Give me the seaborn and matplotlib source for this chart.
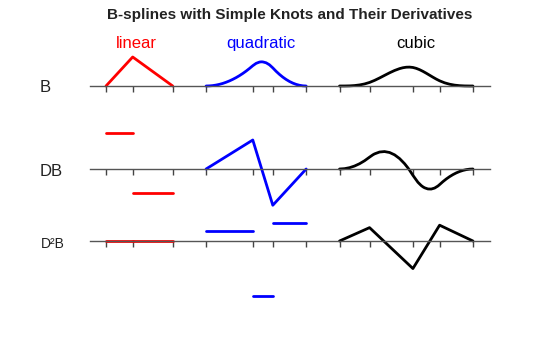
import matplotlib
matplotlib.use("Agg")
import matplotlib.pyplot as plt
import seaborn as sns
import numpy as np

# ---------------- data ----------------
lin_knots = [0.0, 0.8, 2.0]
quad_knots = [3.0, 4.4, 5.0, 6.0]
cub_knots = [7.0, 7.9, 9.2, 10.0, 11.0]

# B row
lin_B_x = [0.0, 0.8, 2.0]
lin_B_y = [0.0, 1.0, 0.0]
quad_B_x = [3.0, 3.1, 3.2, 3.3, 3.4, 3.5, 3.6, 3.7, 3.8, 3.9, 4.0, 4.1, 4.2, 4.3,
            4.4, 4.5, 4.6, 4.65, 4.7, 4.8, 4.9, 5.0, 5.1, 5.2, 5.3, 5.4, 5.5, 5.6,
            5.7, 5.8, 5.9, 6.0]
quad_B_y = [0.0, 0.004, 0.014, 0.032, 0.057, 0.089, 0.129, 0.175, 0.229, 0.289,
            0.357, 0.432, 0.514, 0.604, 0.700, 0.781, 0.825, 0.833, 0.831, 0.800,
            0.731, 0.625, 0.506, 0.400, 0.306, 0.225, 0.156, 0.100, 0.056, 0.025,
            0.006, 0.0]
cub_B_x = [7.0, 7.15, 7.3, 7.45, 7.6, 7.75, 7.9, 8.05, 8.2, 8.35, 8.5, 8.65, 8.8,
           8.9, 9.0, 9.1, 9.2, 9.3, 9.4, 9.5, 9.6, 9.7, 9.8, 9.9, 10.0, 10.15,
           10.3, 10.45, 10.6, 10.75, 10.9, 11.0]
cub_B_y = [0.0, 0.0006, 0.0045, 0.0153, 0.0364, 0.0710, 0.1227, 0.1931, 0.2767,
           0.3663, 0.4547, 0.5347, 0.5990, 0.6295, 0.6478, 0.6516, 0.6389, 0.6083,
           0.5627, 0.5056, 0.4410, 0.3723, 0.3033, 0.2377, 0.1792, 0.1100, 0.0615,
           0.0298, 0.0115, 0.0028, 0.0002, 0.0]

# DB row
lin_DB_vals = [1.25, -0.833]          # constant on each knot interval
quad_DB_x = [3.0, 4.4, 5.0, 6.0]
quad_DB_y = [0.0, 1.0, -1.25, 0.0]
cub_DB_x = [7.0, 7.15, 7.3, 7.45, 7.6, 7.75, 7.9, 8.0, 8.05, 8.2, 8.35, 8.5, 8.65,
            8.8, 8.95, 9.05, 9.1, 9.2, 9.35, 9.45, 9.5, 9.55, 9.65, 9.75, 9.85,
            9.95, 10.0, 10.1, 10.2, 10.3, 10.4, 10.5, 10.6, 10.7, 10.8, 10.9, 11.0]
cub_DB_y = [0.0, 0.0114, 0.0455, 0.1023, 0.1818, 0.2841, 0.4091, 0.4893, 0.5214,
            0.5855, 0.6015, 0.5692, 0.4888, 0.3603, 0.1835, 0.0389, -0.0414,
            -0.2182, -0.4577, -0.5715, -0.6145, -0.6483, -0.6881, -0.6913, -0.6574,
            -0.5868, -0.5376, -0.4355, -0.3441, -0.2634, -0.1935, -0.1344, -0.0860,
            -0.0484, -0.0215, -0.0054, 0.0]

# D2B row
lin_D2B_vals = [0.0, 0.0]
quad_D2B_vals = [0.714, -3.75, 1.25]
cub_D2B_x = [7.0, 7.9, 9.2, 10.0, 11.0]
cub_D2B_y = [0.0, 0.909, -1.874, 1.075, 0.0]

titles = ["linear", "quadratic", "cubic"]
title_x = [0.92, 4.65, 9.29]
row_labels = ["B", "DB", "D²B"]
main_title = "B-splines with Simple Knots and Their Derivatives"

# ---------------- styling ----------------
sns.set_theme(style="white")
plt.rcParams["font.family"] = ["Liberation Sans", "DejaVu Sans"]

W, H = 560, 337
fig = plt.figure(figsize=(W / 100, H / 100), dpi=100)

px_unit = 33.36        # pixels per x unit
x0_px = 106            # pixel position of x = 0
xlim = (-x0_px / px_unit, (W - x0_px) / px_unit)

# (top px, bottom px, baseline px, px per y-unit)
rows = [(30, 110, 86, 29.0), (110, 215, 169, 29.0), (215, 330, 241, 14.7)]
all_knots = lin_knots + quad_knots + cub_knots

axes = []
for (top, bot, base, sc) in rows:
    ax = fig.add_axes([0, 1 - bot / H, 1, (bot - top) / H])
    ax.set_xlim(*xlim)
    ax.set_ylim(-(bot - base) / sc, (base - top) / sc)
    for s in ["top", "left", "right"]:
        ax.spines[s].set_visible(False)
    ax.spines["bottom"].set_position(("data", 0))
    ax.spines["bottom"].set_bounds(-0.48, 11.5)
    ax.spines["bottom"].set_color("#555555")
    ax.spines["bottom"].set_linewidth(1.0)
    ax.set_xticks(all_knots)
    ax.set_xticklabels([])
    ax.set_yticks([])
    ax.tick_params(axis="x", direction="out", length=4, width=1,
                   color="#444444", bottom=True)
    ax.patch.set_alpha(0)
    axes.append(ax)

LW = 2.0
RED, BLUE, BLACK = "#FF0000", "#0000FF", "#000000"


def curve(ax, xs, ys, color):
    sns.lineplot(x=xs, y=ys, ax=ax, color=color, lw=LW, sort=False,
                 estimator=None, clip_on=False)


def steps(ax, knots, vals, color):
    for i, v in enumerate(vals):
        sns.lineplot(x=[knots[i], knots[i + 1]], y=[v, v], ax=ax, color=color,
                     lw=LW, sort=False, estimator=None, clip_on=False)


# B row
curve(axes[0], lin_B_x, lin_B_y, RED)
curve(axes[0], quad_B_x, quad_B_y, BLUE)
curve(axes[0], cub_B_x, cub_B_y, BLACK)
# DB row
steps(axes[1], lin_knots, lin_DB_vals, RED)
curve(axes[1], quad_DB_x, quad_DB_y, BLUE)
curve(axes[1], cub_DB_x, cub_DB_y, BLACK)
# D2B row
steps(axes[2], lin_knots, lin_D2B_vals, RED)
steps(axes[2], quad_knots, quad_D2B_vals, BLUE)
curve(axes[2], cub_D2B_x, cub_D2B_y, BLACK)

for ax in axes:
    if ax.get_legend():
        ax.get_legend().remove()

# column titles
for t, tx, c in zip(titles, title_x, [RED, BLUE, BLACK]):
    fig.text((x0_px + tx * px_unit) / W, 1 - 48.3 / H, t, color=c,
             fontsize=12, ha="center", va="baseline")

# row labels
fig.text(40 / W, 1 - 91.5 / H, row_labels[0], fontsize=12, ha="left",
         va="baseline", color="#222222")
fig.text(40 / W, 1 - 175.5 / H, row_labels[1], fontsize=12, ha="left",
         va="baseline", color="#222222")
fig.text(41 / W, 1 - 247.5 / H, row_labels[2], fontsize=10, ha="left",
         va="baseline", color="#222222")

fig.text(290 / W, 1 - 19.3 / H, main_title, fontsize=11, fontweight="bold",
         ha="center", va="baseline", color="#222222")

fig.savefig("out.png", dpi=100)
